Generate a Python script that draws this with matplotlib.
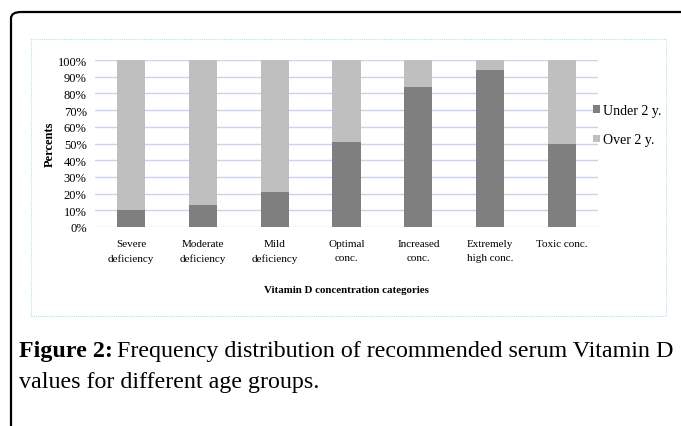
import matplotlib
matplotlib.use("Agg")
import matplotlib.pyplot as plt
from matplotlib.patches import FancyBboxPatch, Rectangle

# Data
categories = ["Severe\ndeficiency", "Moderate\ndeficiency", "Mild\ndeficiency",
              "Optimal\nconc.", "Increased\nconc.", "Extremely\nhigh conc.", "Toxic conc."]
under_2 = [10, 13, 21, 51, 84, 94, 50]
over_2 = [100 - v for v in under_2]
yticks = list(range(0, 101, 10))

serif = ["Liberation Serif", "DejaVu Serif"]
plt.rcParams["font.family"] = serif

fig = plt.figure(figsize=(6.81, 4.27), dpi=100)
W, H = 681, 427

# Outer page frame with rounded top-left corner
frame = FancyBboxPatch((11 / W, -0.2), 1.2, 1 - 13 / H + 0.2,
                       boxstyle="round,pad=0,rounding_size=0.015",
                       transform=fig.transFigure, fill=False,
                       edgecolor="black", linewidth=1.6, clip_on=False)
fig.patches.append(frame)

# Chart box (light blue dotted border)
box = Rectangle((31 / W, 1 - 317 / H), (666 - 31) / W, (317 - 40) / H,
                transform=fig.transFigure, fill=False, edgecolor="#b5def3",
                linewidth=0.8, linestyle=(0, (1, 1)))
fig.patches.append(box)

ax = fig.add_axes([95 / W, 1 - 228 / H, (598 - 95) / W, (228 - 61) / H])
x = list(range(len(categories)))
ax.bar(x, under_2, width=0.39, color="#7f7f7f", label="Under 2 y.", zorder=3)
ax.bar(x, over_2, width=0.39, bottom=under_2, color="#bfbfbf", label="Over 2 y.", zorder=3)

ax.set_xlim(-0.5, len(categories) - 0.5)
ax.set_ylim(0, 100)
ax.set_yticks(yticks)
ax.set_yticklabels([f"{t}%" for t in yticks], fontsize=9)
ax.set_xticks(x)
ax.set_xticklabels(categories, fontsize=8, linespacing=1.6)
ax.tick_params(length=0)
ax.tick_params(axis="x", pad=9)
ax.tick_params(axis="y", pad=6)
ax.grid(axis="y", color="#c8d4ee", linewidth=1, zorder=0)
for s in ax.spines.values():
    s.set_visible(False)

ax.set_ylabel("Percents", fontsize=9, fontweight="bold")
ax.yaxis.set_label_coords(-0.077, 0.5)
ax.set_xlabel("Vitamin D concentration categories", fontsize=7.8, fontweight="bold")
ax.xaxis.set_label_coords(0.5, -0.345)

ax.legend(loc="center left", bbox_to_anchor=(0.99, 0.61), frameon=False,
          fontsize=10, handlelength=0.5, handleheight=0.5,
          handletextpad=0.25, labelspacing=1.2, borderpad=0, borderaxespad=0)

# Caption
renderer = fig.canvas.get_renderer()
cx, cy1, cy2 = 19 / W, 1 - 352 / H, 1 - 383 / H
cap_size = 17.3
bold = fig.text(cx, cy1, "Figure 2:", fontsize=cap_size, fontweight="bold", va="center")
bb = bold.get_window_extent(renderer).transformed(fig.transFigure.inverted())
fig.text(bb.x1 + 4 / W, cy1, "Frequency distribution of recommended serum Vitamin D",
         fontsize=cap_size, va="center")
fig.text(cx, cy2, "values for different age groups.", fontsize=cap_size, va="center")

fig.savefig("out.png", dpi=100)
